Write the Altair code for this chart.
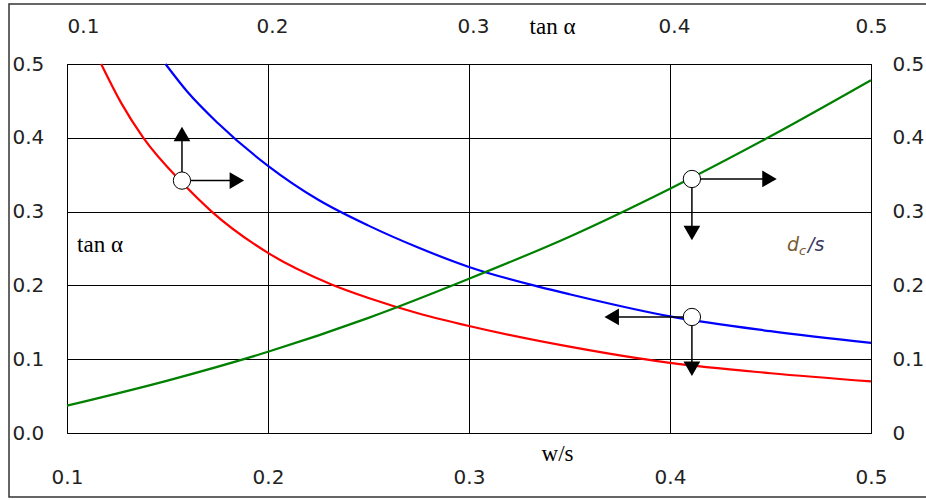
import altair as alt
import pandas as pd

# Curves: w/s on the x axis, value on the y axes
red_ws = [0.117, 0.127, 0.138, 0.157, 0.172, 0.200, 0.231, 0.250, 0.275, 0.300, 0.350, 0.400, 0.450, 0.500]
red_val = [0.500, 0.447, 0.400, 0.340, 0.300, 0.244, 0.202, 0.183, 0.162, 0.145, 0.117, 0.095, 0.081, 0.070]

blue_ws = [0.149, 0.160, 0.175, 0.200, 0.225, 0.250, 0.275, 0.300, 0.335, 0.350, 0.400, 0.450, 0.500]
blue_val = [0.500, 0.462, 0.420, 0.362, 0.316, 0.281, 0.251, 0.225, 0.198, 0.188, 0.158, 0.138, 0.122]

green_ws = [0.100, 0.150, 0.200, 0.250, 0.300, 0.350, 0.400, 0.450, 0.500]
green_val = [0.037, 0.071, 0.110, 0.156, 0.209, 0.266, 0.331, 0.402, 0.478]

tick_vals_x = [0.1, 0.2, 0.3, 0.4, 0.5]
tick_vals_y = [0.0, 0.1, 0.2, 0.3, 0.4, 0.5]

# Reading example: open circles on the curves with direction arrows
marker_x = [0.1572, 0.4109, 0.4109]
marker_y = [0.3420, 0.3442, 0.1572]

arrow_x = [0.1572, 0.1572, 0.4109, 0.4109, 0.4109, 0.4109]
arrow_y = [0.3420, 0.3420, 0.3442, 0.3442, 0.1572, 0.1572]
arrow_x2 = [0.1572, 0.1845, 0.4495, 0.4109, 0.3710, 0.4109]
arrow_y2 = [0.4050, 0.3420, 0.3442, 0.2710, 0.1572, 0.0870]
arrow_shape = ["triangle-up", "triangle-right", "triangle-right",
               "triangle-down", "triangle-left", "triangle-down"]

curves = pd.concat([
    pd.DataFrame({"ws": red_ws, "val": red_val, "series": "red"}),
    pd.DataFrame({"ws": blue_ws, "val": blue_val, "series": "blue"}),
    pd.DataFrame({"ws": green_ws, "val": green_val, "series": "green"}),
])
markers = pd.DataFrame({"x": marker_x, "y": marker_y})
arrows = pd.DataFrame({"x": arrow_x, "y": arrow_y, "x2": arrow_x2,
                       "y2": arrow_y2, "shape": arrow_shape})

W, H = 804, 369
NUM_FONT = "DejaVu Sans"
SERIF = "Liberation Serif"

xs = alt.Scale(domain=[0.1, 0.5], nice=False, zero=False)
ys = alt.Scale(domain=[0.0, 0.5], nice=False, zero=False)

axis_bottom = alt.Axis(
    orient="bottom", values=tick_vals_x, format=".1f", grid=True,
    gridColor="black", gridWidth=1, gridOpacity=1, domain=False, ticks=False,
    tickSize=0, labelPadding=44, labelBaseline="middle", labelFlush=False,
    labelFont=NUM_FONT, labelFontSize=20, labelColor="#222", title="w/s",
    titleFont=SERIF, titleFontSize=23, titleFontWeight="normal",
    titleColor="black", titleX=490, titleY=20, titleBaseline="middle",
    titleAlign="center",
)
axis_left = alt.Axis(
    orient="left", values=tick_vals_y, format=".1f", grid=True,
    gridColor="black", gridWidth=1, gridOpacity=1, domain=False, ticks=False,
    tickSize=0, labelPadding=55, labelAlign="left", labelBaseline="middle",
    labelFlush=False, labelFont=NUM_FONT, labelFontSize=20, labelColor="#222",
    title=None,
)
axis_top = alt.Axis(
    orient="top", values=tick_vals_x, format=".1f", grid=False, domain=False,
    ticks=False, tickSize=0, labelPadding=38, labelBaseline="middle",
    labelFlush=False,
    labelOffset={"expr": "datum.value < 0.15 ? 16 : (datum.value > 0.45 ? 0 : 4)"},
    labelFont=NUM_FONT, labelFontSize=20, labelColor="#222",
    title="tan α", titleFont=SERIF, titleFontSize=23, titleFontWeight="normal",
    titleColor="black", titleX=485, titleY=-38, titleBaseline="middle",
    titleAlign="center",
)
axis_right = alt.Axis(
    orient="right", values=tick_vals_y, grid=False, domain=False, ticks=False,
    tickSize=0, labelPadding=21, labelAlign="left", labelBaseline="middle",
    labelFlush=False,
    labelExpr="datum.value == 0 ? '0' : format(datum.value, '.1f')",
    labelFont=NUM_FONT, labelFontSize=20, labelColor="#222", title=None,
)

lines = alt.Chart(curves).mark_line(strokeWidth=2.2, interpolate="monotone").encode(
    x=alt.X("ws:Q", scale=xs, axis=axis_bottom),
    y=alt.Y("val:Q", scale=ys, axis=axis_left),
    color=alt.Color("series:N", scale=alt.Scale(
        domain=["red", "blue", "green"], range=["#ff0000", "#0000ff", "#008000"]),
        legend=None),
    detail="series:N",
)

arrow_lines = alt.Chart(arrows).mark_rule(color="black", strokeWidth=1.5).encode(
    x=alt.X("x:Q", scale=xs, axis=axis_top),
    y=alt.Y("y:Q", scale=ys, axis=axis_right),
    x2="x2:Q",
    y2="y2:Q",
)

arrow_heads = alt.Chart(arrows).mark_point(
    filled=True, color="black", size=280, opacity=1, strokeWidth=0
).encode(
    x=alt.X("x2:Q", scale=xs, axis=None),
    y=alt.Y("y2:Q", scale=ys, axis=None),
    shape=alt.Shape("shape:N", scale=None),
)

circles = alt.Chart(markers).mark_point(
    shape="circle", filled=True, fill="white", stroke="black", strokeWidth=1,
    size=300, opacity=1,
).encode(
    x=alt.X("x:Q", scale=xs, axis=None),
    y=alt.Y("y:Q", scale=ys, axis=None),
)

# Axis name labels inside the plot
label_left = alt.Chart(pd.DataFrame({"x": [0.105], "y": [0.2547], "t": ["tan α"]})).mark_text(
    font=SERIF, fontSize=23, align="left", baseline="middle", color="black"
).encode(
    x=alt.X("x:Q", scale=xs, axis=None),
    y=alt.Y("y:Q", scale=ys, axis=None),
    text="t:N",
)

dc_color = "#7a5a30"
dc_base = alt.Chart(pd.DataFrame({"x": [0.4582], "y": [0.2547]}))
dc_d = dc_base.mark_text(
    text="d", font=NUM_FONT, fontStyle="italic", fontSize=19, align="left",
    baseline="middle", color=dc_color,
).encode(x=alt.X("x:Q", scale=xs, axis=None), y=alt.Y("y:Q", scale=ys, axis=None))
dc_c = dc_base.mark_text(
    text="c", font=NUM_FONT, fontStyle="italic", fontSize=13, align="left",
    baseline="middle", color=dc_color, dx=12, dy=6,
).encode(x=alt.X("x:Q", scale=xs, axis=None), y=alt.Y("y:Q", scale=ys, axis=None))
dc_s = dc_base.mark_text(
    text="/s", font=NUM_FONT, fontStyle="italic", fontSize=19, align="left",
    baseline="middle", color="#3a3a60", dx=21,
).encode(x=alt.X("x:Q", scale=xs, axis=None), y=alt.Y("y:Q", scale=ys, axis=None))

# Outer frame around the whole figure
frame = alt.Chart(pd.DataFrame({"a": [0]})).mark_rect(
    fillOpacity=0, stroke="#333333", strokeWidth=1.5
).encode(
    x=alt.value(-58), x2=alt.value(880), y=alt.value(-60), y2=alt.value(433),
)

chart = alt.layer(
    lines, arrow_lines, arrow_heads, circles, label_left, dc_d, dc_c, dc_s, frame
).resolve_axis(
    x="independent", y="independent"
).properties(
    width=W, height=H,
    autosize=alt.AutoSizeParams(type="none"),
    padding={"left": 67, "top": 64, "right": 55, "bottom": 67},
    background="white",
).configure_view(
    stroke="black", strokeWidth=1
)

chart.save("out.html", embed_options={"renderer": "svg", "actions": False})
